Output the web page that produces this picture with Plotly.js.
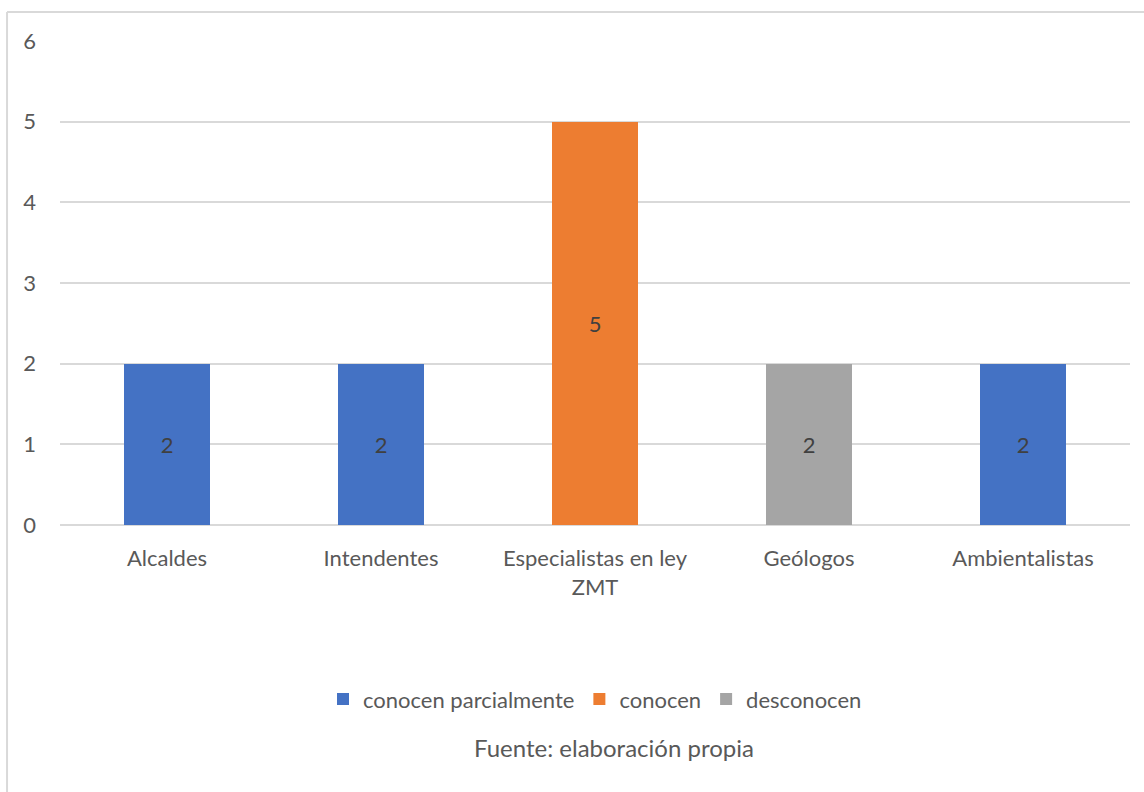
<!DOCTYPE html>
<html>
<head>
<meta charset="utf-8">
<script src="https://cdn.plot.ly/plotly-3.0.1.min.js"></script>
<style>
  html, body { margin: 0; padding: 0; background: #fff; }
  #chart { width: 1144px; height: 792px; }
</style>
</head>
<body>
<div id="chart"></div>
<script>
// Categories (respondent groups) and tick labels
const categories = ['Alcaldes', 'Intendentes', 'Especialistas en ley ZMT', 'Geólogos', 'Ambientalistas'];
const tickLabels = ['Alcaldes', 'Intendentes', 'Especialistas en ley<br>ZMT', 'Geólogos', 'Ambientalistas'];

// Series values per category (null where the group is not in that series)
const conocenParcialmente = [2, 2, null, null, 2];
const conocen = [null, null, 5, null, null];
const desconocen = [null, null, null, 2, null];

const seriesNames = ['conocen parcialmente', 'conocen', 'desconocen'];
const seriesColors = ['#4472C4', '#ED7D31', '#A5A5A5'];
const seriesValues = [conocenParcialmente, conocen, desconocen];

const FONT = 'Lato, "Open Sans", sans-serif';
const TEXT = '#595959';
const SIZE = 22;

const traces = seriesValues.map((vals, i) => ({
  type: 'bar',
  name: seriesNames[i],
  x: categories,
  y: vals,
  marker: { color: seriesColors[i] },
  text: vals.map(v => (v == null ? '' : String(v))),
  textposition: 'inside',
  insidetextanchor: 'middle',
  textangle: 0,
  textfont: { family: FONT, size: SIZE, color: '#404040' },
  hoverinfo: 'x+y+name'
}));

const layout = {
  width: 1144,
  height: 792,
  margin: { l: 60, r: 14, t: 41, b: 267 },
  paper_bgcolor: '#ffffff',
  plot_bgcolor: '#ffffff',
  barmode: 'stack',
  bargap: 0.6,
  showlegend: true,
  font: { family: FONT, color: TEXT, size: SIZE },
  xaxis: {
    type: 'category',
    tickvals: categories,
    ticktext: tickLabels,
    showgrid: false,
    zeroline: false,
    showline: false,
    ticks: '',
    ticklabelstandoff: 18,
    tickfont: { family: FONT, size: SIZE, color: TEXT }
  },
  yaxis: {
    range: [0, 6],
    dtick: 1,
    tick0: 0,
    showgrid: true,
    gridcolor: '#D9D9D9',
    gridwidth: 2,
    zeroline: true,
    zerolinecolor: '#D9D9D9',
    zerolinewidth: 2,
    showline: false,
    ticks: '',
    ticklabelstandoff: 23,
    tickfont: { family: FONT, size: SIZE, color: TEXT }
  },
  legend: {
    orientation: 'h',
    x: 0.5,
    xanchor: 'center',
    y: -0.36,
    yanchor: 'middle',
    traceorder: 'normal',
    font: { family: FONT, size: SIZE, color: TEXT },
    itemwidth: 30,
    bgcolor: 'rgba(0,0,0,0)'
  },
  annotations: [{
    text: 'Fuente: elaboración propia',
    xref: 'paper', yref: 'paper',
    x: 0.518, y: -0.459,
    xanchor: 'center', yanchor: 'middle',
    showarrow: false,
    font: { family: FONT, size: 24, color: TEXT }
  }],
  shapes: [
    // chart frame: left and top edges
    { type: 'line', xref: 'paper', yref: 'paper', x0: -0.0495, x1: -0.0495, y0: 1.06, y1: -0.56,
      line: { color: '#D9D9D9', width: 2 } },
    { type: 'line', xref: 'paper', yref: 'paper', x0: -0.0495, x1: 1.02, y0: 1.06, y1: 1.06,
      line: { color: '#D9D9D9', width: 2 } }
  ]
};

Plotly.newPlot('chart', traces, layout, { displayModeBar: false, staticPlot: true });
</script>
</body>
</html>
